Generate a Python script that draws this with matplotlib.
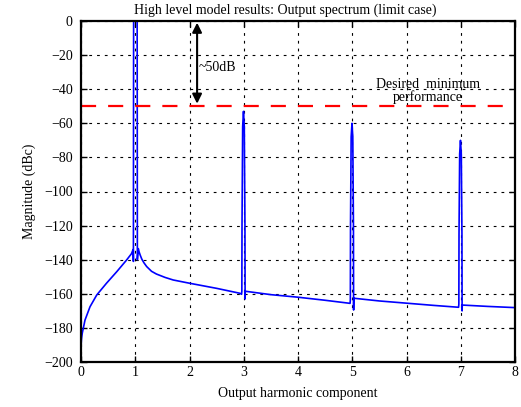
import matplotlib
matplotlib.use("Agg")
import matplotlib.pyplot as plt

plt.rcParams['font.family'] = ['Liberation Serif', 'DejaVu Serif']
plt.rcParams['axes.unicode_minus'] = True

# Spectrum trace (harmonic, dBc)
harmonic = [0.0, 0.002, 0.01, 0.024, 0.074, 0.166, 0.29, 0.47, 0.66, 0.84, 0.93, 0.955,
            0.962, 0.966, 0.968, 0.97, 1.035, 1.037, 1.039, 1.046, 1.056,
            1.07, 1.09, 1.12, 1.16, 1.21, 1.3, 1.39, 1.55, 1.70, 2.0, 2.5, 2.93, 2.96,
            2.965, 2.968, 2.98, 2.995, 3.01, 3.022, 3.025, 3.028,
            3.5, 4.0, 4.5, 4.96,
            4.965, 4.968, 4.98, 4.995, 5.01, 5.022, 5.025, 5.028,
            5.5, 6.0, 6.5, 6.96,
            6.965, 6.968, 6.98, 6.995, 7.01, 7.022, 7.025, 7.028,
            7.5, 8.0]
magnitude = [-200, -190, -186, -183, -175.4, -167.6, -160.7, -153.8, -147, -140.2, -136.5, -134.5,
             -134, -141, -60, 0, 0, -60, -140, -137, -133.5,
             -135.3, -137.2, -139.6, -141.8, -144, -146.8, -148.4, -150.4, -151.9, -153.8, -156.8, -159.7, -160.3,
             -158.5, -120, -62, -53, -62, -120, -163, -158.5,
             -160.5, -162, -163.8, -165.6,
             -163.5, -120, -68, -60, -68, -120, -169.5, -162.6,
             -164.2, -165.5, -166.8, -167.9,
             -166, -125, -78, -70, -78, -125, -170, -166.6,
             -167.4, -168.1]

xticks = [0, 1, 2, 3, 4, 5, 6, 7, 8]
yticks = [0, -20, -40, -60, -80, -100, -120, -140, -160, -180, -200]
spec_limit = -50
gap_arrow = [0, -50]

fig = plt.figure(figsize=(5.21, 4.07), dpi=100)
ax = fig.add_axes([81/521, 1-362/407, (515-81)/521, (362-21)/407])

ax.plot(harmonic, magnitude, color='#0000ff', lw=1.2, zorder=3, clip_on=True)
ax.axhline(spec_limit, color='#ff0000', lw=1.6, dashes=(6.8, 5.4), zorder=4)

ax.annotate('', xy=(2.14, gap_arrow[1] + 1.5), xytext=(2.14, gap_arrow[0] - 1),
            arrowprops=dict(arrowstyle='<|-|>', color='black', lw=1.5,
                            mutation_scale=14, shrinkA=0, shrinkB=0), zorder=5)
ax.text(2.17, -27, '~50dB', fontsize=10, ha='left', va='center', zorder=5)
ax.text(6.39, -41, 'Desired  minimum\nperformance', fontsize=10, ha='center',
        va='center', linespacing=0.95, zorder=5)

ax.set_xlim(0, 8)
ax.set_ylim(-200, 0)
ax.set_xticks(xticks)
ax.set_yticks(yticks)
ax.set_xticklabels([str(t) for t in xticks])
ax.set_yticklabels([str(t).replace('-', '\u2212') for t in yticks])
ax.grid(True, color='black', linestyle=(0, (2.5, 4.5)), lw=0.8)
ax.tick_params(direction='in', top=True, right=True, length=4, width=1.0,
               labelsize=10)
ax.tick_params(axis='y', pad=6)
ax.tick_params(axis='x', pad=3)
for s in ax.spines.values():
    s.set_linewidth(1.6)
    s.set_zorder(6)

ax.set_xlabel('Output harmonic component', fontsize=10, labelpad=6)
ax.set_ylabel('Magnitude (dBc)', fontsize=10, labelpad=6)
fig.text(285/521, 1-10/407, 'High level model results: Output spectrum (limit case)',
         fontsize=10, ha='center', va='center')

fig.savefig('out.png', dpi=100)
